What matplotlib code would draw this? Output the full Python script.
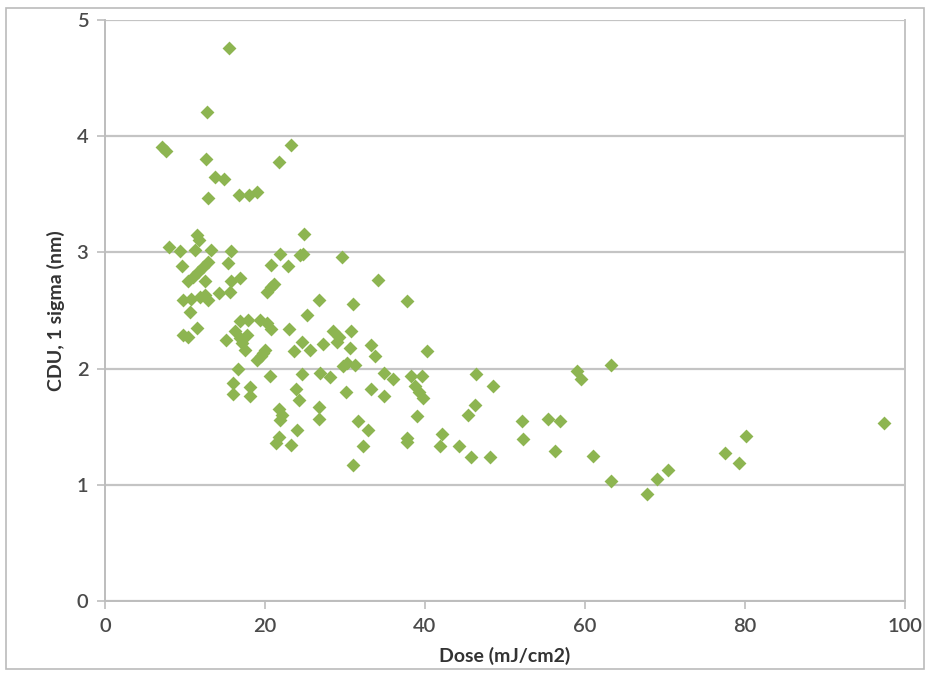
import matplotlib
matplotlib.use("Agg")
from matplotlib import pyplot as plt
from matplotlib.patches import Rectangle

# dose (mJ/cm2) and CDU 1-sigma (nm)
dose = [7.1, 7.6, 12.6, 13.75, 14.9, 12.9, 16.8, 18.0, 19.0, 21.7, 23.25, 15.5, 12.8,
        8.0, 9.4, 11.5, 11.7, 11.25, 13.25, 15.8, 9.6, 10.4, 11.0, 11.6, 12.2, 12.9,
        15.4, 12.5, 15.8, 16.9, 9.8, 10.8, 11.9, 12.5, 12.9, 14.2, 15.6, 10.6, 11.5,
        9.8, 10.4, 16.9, 17.9, 19.4, 20.2, 20.7, 23.0, 25.3, 26.7, 15.1, 16.25, 16.9,
        17.7, 17.1, 17.5, 19.0, 19.5, 20.0, 23.6, 24.6, 25.6, 27.3, 28.5, 29.2, 29.0,
        30.8, 30.6, 33.3, 33.8, 19.8, 16.6, 20.6, 24.6, 26.9, 28.1, 29.7, 30.2, 31.25,
        16.0, 16.0, 18.1, 18.1, 23.9, 24.3, 30.1, 33.3, 21.7, 22.1, 21.9, 26.7, 26.7,
        21.7, 21.4, 24.0, 23.3, 31.0, 31.6, 32.9, 32.3, 24.9, 21.9, 24.4, 24.8, 29.6,
        20.8, 22.9, 20.3, 20.7, 21.1, 34.1, 31.0, 37.8, 40.2, 34.9, 36.0, 38.3, 39.6,
        38.75, 39.2, 39.8, 46.4, 48.5, 34.9, 39.0, 46.25, 45.4, 37.7, 37.8, 42.1, 41.9,
        44.3, 45.7, 48.1, 52.1, 55.4, 56.9, 52.3, 56.25, 59.0, 59.5, 61.0, 63.2, 63.2,
        67.7, 69.0, 70.4, 77.5, 79.3, 80.1, 97.4]
cdu = [3.91, 3.87, 3.80, 3.65, 3.63, 3.47, 3.49, 3.49, 3.52, 3.78, 3.92, 4.76, 4.21,
       3.05, 3.01, 3.15, 3.11, 3.02, 3.02, 3.01, 2.88, 2.75, 2.79, 2.83, 2.87, 2.92,
       2.91, 2.75, 2.75, 2.78, 2.59, 2.60, 2.62, 2.63, 2.59, 2.65, 2.66, 2.49, 2.35,
       2.29, 2.27, 2.41, 2.42, 2.42, 2.39, 2.34, 2.34, 2.46, 2.59, 2.25, 2.32, 2.26,
       2.29, 2.22, 2.16, 2.07, 2.11, 2.16, 2.15, 2.23, 2.16, 2.21, 2.32, 2.27, 2.23,
       2.32, 2.18, 2.20, 2.11, 2.13, 2.00, 1.94, 1.95, 1.96, 1.93, 2.02, 2.05, 2.03,
       1.88, 1.78, 1.84, 1.76, 1.82, 1.73, 1.80, 1.82, 1.65, 1.60, 1.56, 1.67, 1.57,
       1.41, 1.36, 1.47, 1.34, 1.17, 1.55, 1.47, 1.33, 3.16, 2.99, 2.98, 2.99, 2.96,
       2.89, 2.88, 2.66, 2.70, 2.73, 2.76, 2.56, 2.58, 2.15, 1.96, 1.91, 1.94, 1.94,
       1.85, 1.80, 1.75, 1.95, 1.85, 1.76, 1.59, 1.69, 1.60, 1.40, 1.37, 1.44, 1.33,
       1.33, 1.24, 1.24, 1.55, 1.57, 1.55, 1.39, 1.29, 1.98, 1.91, 1.25, 2.03, 1.03,
       0.92, 1.05, 1.13, 1.27, 1.19, 1.42, 1.53]

x_ticks = [0, 20, 40, 60, 80, 100]
y_ticks = [0, 1, 2, 3, 4, 5]

plt.rcParams['font.family'] = ['Lato', 'DejaVu Sans']

fig = plt.figure(figsize=(9.28, 6.77), dpi=100)
ax = fig.add_axes([0.1131, 0.1123, 0.862, 0.8582])

ax.scatter(dose, cdu, marker='D', s=50, color='#8DB551', linewidths=0, zorder=3)

ax.set_xlim(0, 100)
ax.set_ylim(0, 5)
ax.set_xticks(x_ticks)
ax.set_yticks(y_ticks)
ax.yaxis.grid(True, color='#C4C4C4', linewidth=1.6)
ax.set_axisbelow(True)

for side in ['left', 'bottom']:
    ax.spines[side].set_color('#BDBDBD')
    ax.spines[side].set_linewidth(1.4)
ax.spines['top'].set_visible(False)
ax.spines['right'].set_color('#C4C4C4')
ax.spines['right'].set_linewidth(1.4)

ax.tick_params(axis='both', direction='out', length=6, width=1.2, color='#BDBDBD',
               labelsize=14.5, labelcolor='#4A4A4A', pad=6)
for lab in ax.get_xticklabels() + ax.get_yticklabels():
    lab.set_fontweight('semibold')

ax.set_xlabel('Dose (mJ/cm2)', fontsize=14, fontweight='bold', color='#333333', labelpad=9)
ax.set_ylabel('CDU, 1 sigma (nm)', fontsize=14, fontweight='bold', color='#333333', labelpad=8)

# light frame round the whole chart
fig.patches.append(Rectangle((0.006, 0.012), 0.99, 0.976, transform=fig.transFigure,
                             fill=False, edgecolor='#BBBBBB', linewidth=1.2))

plt.savefig('out.png', dpi=100)
